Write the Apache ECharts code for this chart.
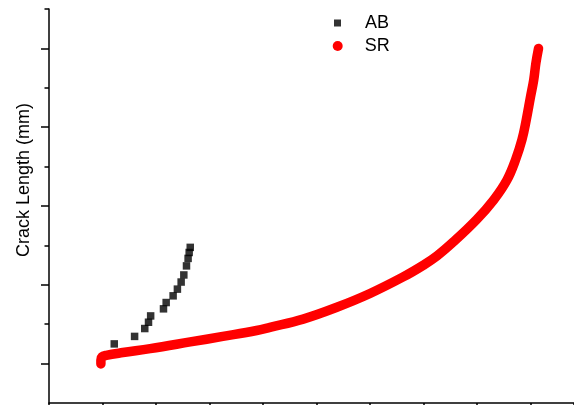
<!DOCTYPE html>
<html>
<head>
<meta charset="utf-8">
<script src="https://cdn.jsdelivr.net/npm/echarts@6/dist/echarts.min.js"></script>
<style>
  html, body { margin: 0; padding: 0; background: #fff; }
  #chart { width: 574px; height: 405px; }
</style>
</head>
<body>
<div id="chart"></div>
<script>
// AB samples (x, crack length)
const abX = [1.22, 1.60, 1.79, 1.86, 1.90, 2.14, 2.19, 2.32, 2.40, 2.47, 2.52, 2.57, 2.60, 2.62, 2.64];
const abY = [1.50, 1.69, 1.89, 2.05, 2.21, 2.39, 2.55, 2.72, 2.89, 3.07, 3.25, 3.48, 3.67, 3.82, 3.95];

// SR samples
const srX = [0.97, 0.97, 0.99, 1.07, 1.38, 1.89, 2.64, 3.25, 3.88, 4.13, 4.75, 5.38, 6.00, 6.62,
  7.00, 7.25, 7.56, 7.99, 8.31, 8.56, 8.72, 8.84, 8.92, 9.00, 9.06, 9.10, 9.15];
const srY = [0.99, 1.09, 1.17, 1.21, 1.28, 1.38, 1.55, 1.69, 1.84, 1.92, 2.13, 2.43, 2.78, 3.20,
  3.50, 3.73, 4.09, 4.65, 5.15, 5.66, 6.17, 6.68, 7.18, 7.77, 8.20, 8.62, 9.00];

const majorTicks = [1, 3, 5, 7, 9];
const minorTicks = [2, 4, 6, 8, 10];

let abData = abX.map((x, i) => [x, abY[i]]);
let srData = srX.map((x, i) => [x, srY[i]]);

let font = 'Liberation Sans, Arial, sans-serif';

let option = {
  animation: false,
  backgroundColor: '#fff',
  grid: {
    left: 49,
    right: 0,
    top: 9,
    bottom: 2
  },
  legend: [
    {
      data: [{name: 'AB', icon: 'rect'}],
      orient: 'vertical',
      left: 329,
      top: 9,
      itemWidth: 7,
      itemHeight: 7,
      textStyle: {fontFamily: font, fontSize: 18, color: '#000', padding: [0, 0, 0, 19]}
    },
    {
      data: [{name: 'SR', icon: 'circle'}],
      orient: 'vertical',
      left: 327.7,
      top: 32,
      itemWidth: 10,
      itemHeight: 10,
      textStyle: {fontFamily: font, fontSize: 18, color: '#000', padding: [0, 0, 0, 17]}
    }
  ],
  xAxis: {
    type: 'value',
    min: 0,
    max: 9.813,
    interval: 1,
    axisLine: {lineStyle: {color: '#000', width: 1.5}},
    axisTick: {show: true, length: 5, lineStyle: {color: '#000', width: 1.5}},
    axisLabel: {show: false},
    splitLine: {show: false}
  },
  yAxis: [
    {
      type: 'value',
      min: 0,
      max: 10,
      name: 'Crack Length (mm)',
      nameLocation: 'middle',
      nameGap: 16,
      nameTextStyle: {fontFamily: font, fontSize: 18, color: '#000', padding: [0, 0, 0, 52]},
      axisLine: {show: true, lineStyle: {color: '#000', width: 1.5}},
      axisTick: {show: true, length: 8, customValues: majorTicks, lineStyle: {color: '#000', width: 1.5}},
      axisLabel: {show: false},
      splitLine: {show: false}
    },
    {
      type: 'value',
      min: 0,
      max: 10,
      position: 'left',
      axisLine: {show: false},
      axisTick: {show: true, length: 4.5, customValues: minorTicks, lineStyle: {color: '#000', width: 1.5}},
      axisLabel: {show: false},
      splitLine: {show: false}
    }
  ],
  series: [
    {
      name: 'AB',
      type: 'scatter',
      symbol: 'rect',
      symbolSize: 7.5,
      itemStyle: {color: '#000'},
      data: abData
    },
    {
      name: 'SR',
      type: 'line',
      smooth: 0.4,
      symbol: 'circle',
      showSymbol: false,
      itemStyle: {color: '#ff0000'},
      lineStyle: {color: '#ff0000', width: 9.5, cap: 'round', join: 'round'},
      data: srData
    }
  ]
};

let myChart = echarts.init(document.getElementById('chart'));
myChart.setOption(option);
</script>
</body>
</html>
